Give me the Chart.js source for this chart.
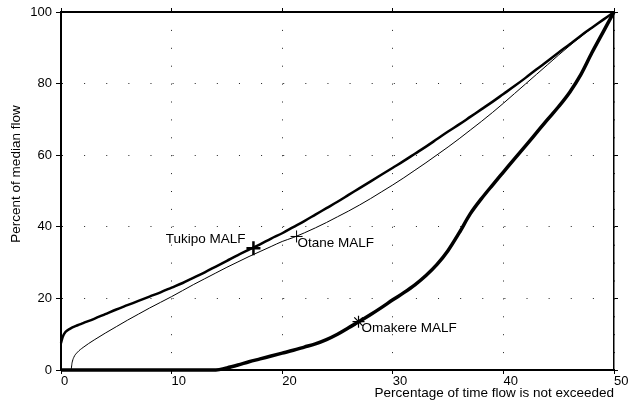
<!DOCTYPE html>
<html>
<head>
<meta charset="utf-8">
<script src="https://cdn.jsdelivr.net/npm/chart.js@4.4.1/dist/chart.umd.min.js"></script>
<style>
html,body{margin:0;padding:0;background:#fff;}
canvas{display:block;}
</style>
</head>
<body>
<canvas id="c" width="628" height="403"></canvas>
<script>
// ---- data ----
const tukipoX = [0, 0.15, 0.4, 0.8, 1.5, 2, 3, 4, 5, 6, 7, 8, 9, 10, 11, 12, 13, 14, 15, 16, 17, 18, 19, 20, 21, 22, 23, 24, 25, 26, 27, 28, 29, 30, 31, 32, 33, 34, 35, 36, 37, 38, 39, 40, 41, 42, 43, 44, 45, 46, 47, 48, 49, 50];
const tukipoY = [7.5, 9.2, 10.6, 11.5, 12.5, 13.1, 14.3, 15.6, 16.9, 18.1, 19.3, 20.5, 21.7, 23, 24.3, 25.8, 27.3, 28.9, 30.5, 32.1, 33.6, 35.1, 36.7, 38.2, 39.9, 41.6, 43.4, 45.2, 47, 48.9, 50.8, 52.7, 54.6, 56.5, 58.4, 60.4, 62.4, 64.5, 66.6, 68.6, 70.7, 72.8, 74.9, 77.1, 79.3, 81.6, 84, 86.3, 88.7, 91, 93.4, 95.6, 97.8, 100];

const otaneX = [0, 0.9, 1.0, 1.15, 1.5, 2, 3, 4, 5, 6, 7, 8, 9, 10, 11, 12, 13, 14, 15, 16, 17, 18, 19, 20, 21, 22, 23, 24, 25, 26, 27, 28, 29, 30, 31, 32, 33, 34, 35, 36, 37, 38, 39, 40, 41, 42, 43, 44, 45, 46, 47, 48, 49, 50];
const otaneY = [0, 0, 2.0, 3.5, 5.0, 6.3, 8.4, 10.3, 12.1, 13.9, 15.6, 17.3, 18.9, 20.5, 22.2, 23.9, 25.5, 27.1, 28.7, 30.2, 31.7, 33.1, 34.5, 35.9, 37.0, 38.3, 39.7, 41.2, 42.8, 44.4, 46.1, 47.9, 49.8, 51.7, 53.7, 55.8, 57.9, 60.1, 62.3, 64.6, 67.0, 69.4, 71.9, 74.5, 77.2, 79.9, 82.6, 85.3, 88.0, 90.6, 93.1, 95.5, 97.8, 100];

const omakereX = [0, 14, 15, 16, 17, 18, 19, 20, 21, 22, 23, 24, 25, 26, 27, 28, 29, 30, 31, 32, 33, 34, 35, 36, 37, 38, 39, 40, 41, 42, 43, 44, 45, 46, 47, 48, 49, 50];
const omakereY = [0, 0, 0.6, 1.4, 2.3, 3.1, 3.9, 4.7, 5.5, 6.4, 7.3, 8.5, 10, 11.8, 13.6, 15.5, 17.5, 19.6, 21.6, 23.8, 26.4, 29.5, 33.4, 38.3, 43.6, 47.8, 51.6, 55.3, 59, 62.6, 66.3, 70, 73.6, 77.6, 82.5, 88.6, 94.3, 100];

const malfNames = ['Tukipo MALF', 'Otane MALF', 'Omakere MALF'];
const malfX = [17.4, 21.3, 26.9];
const malfY = [34.0, 37.3, 13.5];

const xTitle = 'Percentage of time flow is not exceeded';
const yTitle = 'Percent of median flow';

// ---- chart ----
const FONT = "'Liberation Sans', Arial, Helvetica, sans-serif";
const toPts = (xs, ys) => xs.map((x, i) => ({x: x, y: ys[i]}));

const lineStyle = (w) => ({
  showLine: true, pointRadius: 0, borderColor: '#000', backgroundColor: '#000',
  borderWidth: w, cubicInterpolationMode: 'monotone', fill: false, clip: false
});

const labelPlugin = {
  id: 'malfLabels',
  afterDatasetsDraw(chart) {
    const ctx = chart.ctx, xs = chart.scales.x, ys = chart.scales.y;
    ctx.save();
    ctx.fillStyle = '#000';
    ctx.font = '13.5px ' + FONT;
    ctx.textBaseline = 'middle';
    // Tukipo: label to the left, slightly above
    let px = xs.getPixelForValue(malfX[0]), py = ys.getPixelForValue(malfY[0]);
    ctx.textAlign = 'right';
    ctx.fillText(malfNames[0], px - 8, py - 9);
    // Otane: label to the right, slightly below
    px = xs.getPixelForValue(malfX[1]); py = ys.getPixelForValue(malfY[1]);
    ctx.textAlign = 'left';
    ctx.fillText(malfNames[1], px + 1, py + 7);
    // Omakere: label to the right, slightly below
    px = xs.getPixelForValue(malfX[2]); py = ys.getPixelForValue(malfY[2]);
    ctx.fillText(malfNames[2], px + 3, py + 7);
    // y axis title
    ctx.translate(16.5, 174);
    ctx.rotate(-Math.PI / 2);
    ctx.textAlign = 'center';
    ctx.fillText(yTitle, 0, 0);
    ctx.restore();
  }
};

new Chart(document.getElementById('c'), {
  type: 'line',
  data: {
    datasets: [
      Object.assign({label: 'Tukipo', data: toPts(tukipoX, tukipoY)}, lineStyle(2.5)),
      Object.assign({label: 'Otane', data: toPts(otaneX, otaneY)}, lineStyle(1)),
      Object.assign({label: 'Omakere', data: toPts(omakereX, omakereY)}, lineStyle(3.5)),
      {label: malfNames[0], data: [{x: malfX[0], y: malfY[0]}], showLine: false, pointStyle: 'cross', pointRadius: 7, borderWidth: 2.5, borderColor: '#000', clip: false},
      {label: malfNames[1], data: [{x: malfX[1], y: malfY[1]}], showLine: false, pointStyle: 'cross', pointRadius: 6, borderWidth: 1, borderColor: '#000', clip: false},
      {label: malfNames[2], data: [{x: malfX[2], y: malfY[2]}], showLine: false, pointStyle: 'star', pointRadius: 6, borderWidth: 1.2, borderColor: '#000', clip: false}
    ]
  },
  options: {
    responsive: false,
    devicePixelRatio: 1,
    animation: false,
    layout: {padding: 0},
    plugins: {legend: {display: false}, tooltip: {enabled: false}},
    scales: {
      x: {
        type: 'linear', position: 'bottom', min: 0, max: 50,
        ticks: {stepSize: 10, align: 'start', padding: 0, maxRotation: 0, color: '#000', font: {family: FONT, size: 13}},
        grid: {color: '#222', lineWidth: 1, tickLength: 4, tickColor: '#000'},
        border: {color: '#000', width: 2, dash: [1, 16.9]},
        title: {display: true, text: xTitle, align: 'end', color: '#000', font: {family: FONT, size: 13.5}, padding: {top: 0, bottom: 2}},
        afterFit: (s) => { s.height = 33; s.paddingLeft = 0; s.paddingRight = 0; }
      },
      y: {
        type: 'linear', position: 'left', min: 0, max: 100,
        ticks: {stepSize: 20, padding: 4, color: '#000', font: {family: FONT, size: 13}},
        grid: {color: '#222', lineWidth: 1, tickLength: 5, tickColor: '#000'},
        border: {color: '#000', width: 2, dash: [1, 21.12]},
        afterFit: (s) => { s.width = 61; s.paddingTop = 0; s.paddingBottom = 0; }
      },
      x2: {
        type: 'linear', position: 'top', min: 0, max: 50,
        ticks: {display: false, stepSize: 10},
        grid: {drawOnChartArea: false, tickLength: 4, tickColor: '#000'},
        border: {color: '#000', width: 2},
        afterFit: (s) => { s.height = 12; s.paddingLeft = 0; s.paddingRight = 0; }
      },
      y2: {
        type: 'linear', position: 'right', min: 0, max: 100,
        ticks: {display: false, stepSize: 20},
        grid: {drawOnChartArea: false, tickLength: 4, tickColor: '#000'},
        border: {color: '#000', width: 1.5},
        afterFit: (s) => { s.width = 14; s.paddingTop = 0; s.paddingBottom = 0; }
      }
    }
  },
  plugins: [labelPlugin]
});
</script>
</body>
</html>
